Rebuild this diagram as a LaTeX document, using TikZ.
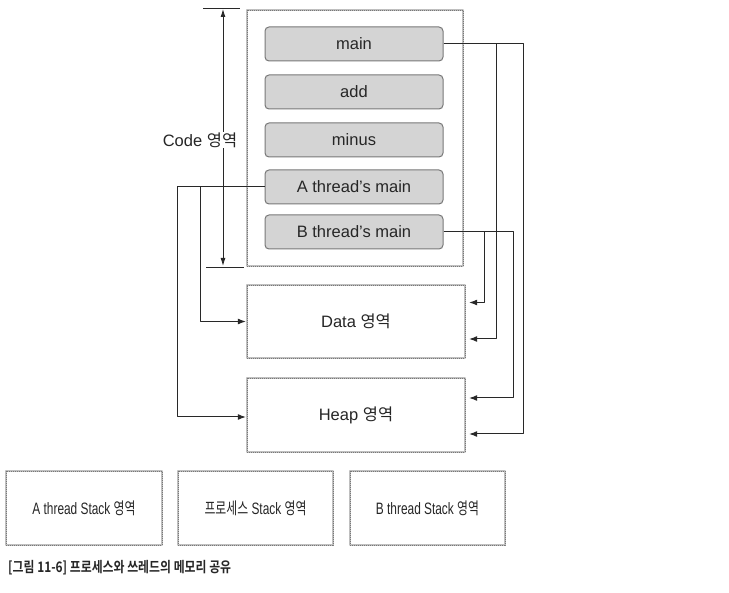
\documentclass[tikz,border=0pt]{standalone}
\usepackage{fontspec}
\usepackage{xcolor}
\usetikzlibrary{arrows.meta}
\setmainfont{Liberation Sans}
\newfontfamily\kr{Noto Sans CJK KR}[BoldFont={Noto Sans CJK KR Bold}]
\definecolor{boxgray}{RGB}{212,212,212}
\definecolor{edgegray}{RGB}{120,120,120}
\definecolor{dotgray}{RGB}{170,170,170}
\definecolor{linkgray}{RGB}{40,40,40}
\newcommand{\narrowtext}[1]{\scalebox{0.72}[1]{#1}}

\begin{document}
\begin{tikzpicture}[x=1pt, y=-1pt, line join=bevel,
        funcnode/.style={shape=rectangle, rounded corners=4pt, fill=boxgray, draw=edgegray, line width=1pt, minimum width=178pt, minimum height=34pt, font=\fontsize{16.5}{18}\selectfont, text=black!85},
        areanode/.style={shape=rectangle, draw=dotgray!75, line width=2.4pt, postaction={draw=edgegray, line width=0.8pt, dash pattern=on 1pt off 1pt}, fill=white, font=\fontsize{16.5}{18}\selectfont, text=black!85},
        linkarrow/.style={draw=linkgray, line width=1pt, -{Latex[length=8pt, width=6pt]}}]
        \useasboundingbox (0,0) rectangle (729,593);
        % Code area and its functions
        \node[areanode, minimum width=216pt, minimum height=256pt] (code) at (355,138) {};
        \node[funcnode] (main) at (354,44) {main};
        \node[funcnode] (add) at (354,92) {add};
        \node[funcnode] (minus) at (354,140) {minus};
        \node[funcnode] (amain) at (354,187) {A thread's main};
        \node[funcnode] (bmain) at (354,232) {B thread's main};
        % Code extent
        \draw[linkgray, line width=0.8pt] (203,8) -- (240,8);
        \draw[linkgray, line width=0.8pt] (206,267) -- (244,267);
        \draw[linkgray, line width=0.9pt, {Latex[length=8pt, width=5pt]}-{Latex[length=8pt, width=5pt]}] (223,9) -- (223,266);
        \node[fill=white, inner sep=1pt, font=\fontsize{16.5}{18}\selectfont, text=black!85] (codelabel) at (200,140) {Code {\kr 영역}};
        % Data and Heap
        \node[areanode, minimum width=218pt, minimum height=73pt] (data) at (356,321.5) {Data {\kr 영역}};
        \node[areanode, minimum width=218pt, minimum height=74pt] (heap) at (356,415) {Heap {\kr 영역}};
        % Stacks
        \node[areanode, minimum width=156pt, minimum height=74pt] (astack) at (84,508) {\narrowtext{A thread Stack {\kr 영역}}};
        \node[areanode, minimum width=155pt, minimum height=74pt] (pstack) at (255.5,508) {\narrowtext{{\kr 프로세스} Stack {\kr 영역}}};
        \node[areanode, minimum width=155pt, minimum height=74pt] (bstack) at (427.5,508) {\narrowtext{B thread Stack {\kr 영역}}};
        % Links
        \draw[linkarrow] (amain.west) -- ++(-64,0) |- (data.west);
        \draw[linkarrow] (amain.west) -- ++(-87,0) |- ([yshift=-2pt]heap.west);
        \draw[linkarrow] (bmain.east) -- ++(41,0) |- ([xshift=3pt, yshift=19pt]data.east);
        \draw[linkarrow] (main.east) -- ++(53,0) |- ([xshift=3pt, yshift=-17.5pt]data.east);
        \draw[linkarrow] (bmain.east) -- ++(70,0) |- ([xshift=3pt, yshift=17pt]heap.east);
        \draw[linkarrow] (main.east) -- ++(80,0) |- ([xshift=3pt, yshift=-19pt]heap.east);
        %% Caption
        \node[anchor=west, inner sep=0pt, font=\kr\bfseries\fontsize{14.5}{16}\selectfont, text=black!85] (caption) at (8,568) {\scalebox{0.82}[1]{[그림 11-6] 프로세스와 쓰레드의 메모리 공유}};
\end{tikzpicture}
\end{document}
